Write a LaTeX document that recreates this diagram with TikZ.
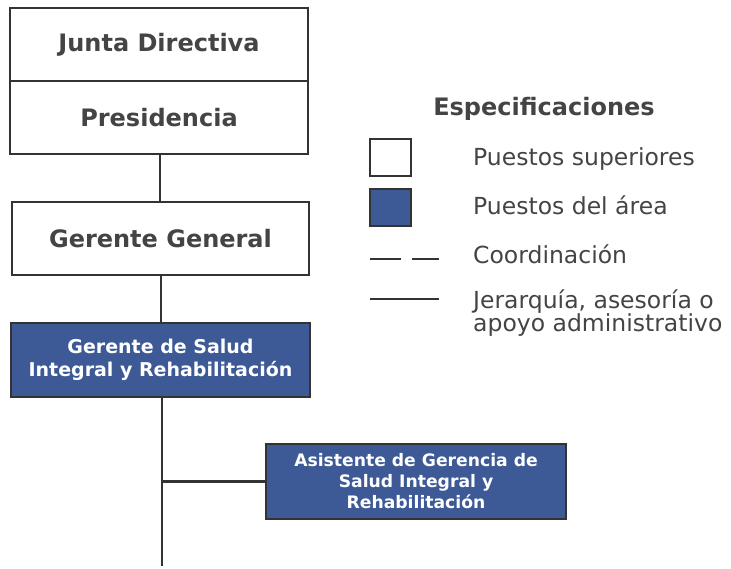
\documentclass[tikz,border=0pt]{standalone}
\usepackage{fontspec}
\setmainfont{DejaVu Sans}
\definecolor{boxblue}{HTML}{3D5A96}
\definecolor{linegray}{HTML}{333333}
\definecolor{txtgray}{HTML}{444444}
\begin{document}
\begin{tikzpicture}[x=1pt,y=-1pt,
  topbox/.style={draw=linegray,line width=2.5pt,fill=white,minimum width=298pt,minimum height=73pt,inner sep=0pt,
    font=\fontsize{24}{28}\selectfont\bfseries,text=txtgray},
  areabox/.style={draw=linegray,line width=2pt,fill=boxblue,inner sep=0pt,text=white,align=center},
  conn/.style={draw=linegray,line width=2.5pt},
  legtext/.style={anchor=base west,inner sep=0pt,font=\fontsize{23.5}{23}\selectfont,text=txtgray}]
\useasboundingbox (0,0) rectangle (731,568);
% org chart
\node[topbox] (jd) at (159,44.5) {Junta Directiva};
\node[topbox] (pr) at (159,117.5) {Presidencia};
\node[topbox,minimum width=297pt] (gg) at (160.5,238.5) {Gerente General};
\node[areabox,minimum width=299pt,minimum height=74pt,font=\fontsize{19}{23.5}\selectfont\bfseries] (gs) at (160.5,360)
  {Gerente de Salud\\Integral y Rehabilitación};
\node[areabox,minimum width=300pt,minimum height=75pt,font=\fontsize{17.2}{21}\selectfont\bfseries] (as) at (416,481.5)
  {Asistente de Gerencia de\\Salud Integral y\\Rehabilitación};
\coordinate (bot) at (162,566);
\draw[conn] (pr.south -| 160,0) -- (gg.north -| 160,0);
\draw[conn] (gg.south -| 161,0) -- (gs.north -| 161,0);
\draw[conn] (gs.south -| bot) -- (bot);
\draw[conn] (as.west -| bot) -- (as.west);
% legend
\node[anchor=base,inner sep=0pt,font=\fontsize{24}{28}\selectfont\bfseries,text=txtgray] (esp) at (544,115) {Especificaciones};
\node[draw=linegray,line width=2pt,fill=white,minimum width=41pt,minimum height=37pt,inner sep=0pt] (lw) at (390,157.5) {};
\node[draw=linegray,line width=2pt,fill=boxblue,minimum width=41pt,minimum height=37pt,inner sep=0pt] (lb) at (390,207.5) {};
\coordinate (d1) at (370,259); \coordinate (d2) at (439,259);
\draw[conn,dash pattern=on 31pt off 11pt] (d1) -- (d2);
\coordinate (s1) at (370,299); \coordinate (s2) at (439,299);
\draw[conn] (s1) -- (s2);
\node[legtext] (t1) at (473,165) {Puestos superiores};
\node[legtext] (t2) at (473,214) {Puestos del área};
\node[legtext] (t3) at (473,263) {Coordinación};
\node[legtext] (t4) at (473,308) {Jerarquía, asesoría o};
\node[legtext] (t5) at (473,331) {apoyo administrativo};
\end{tikzpicture}
\end{document}
